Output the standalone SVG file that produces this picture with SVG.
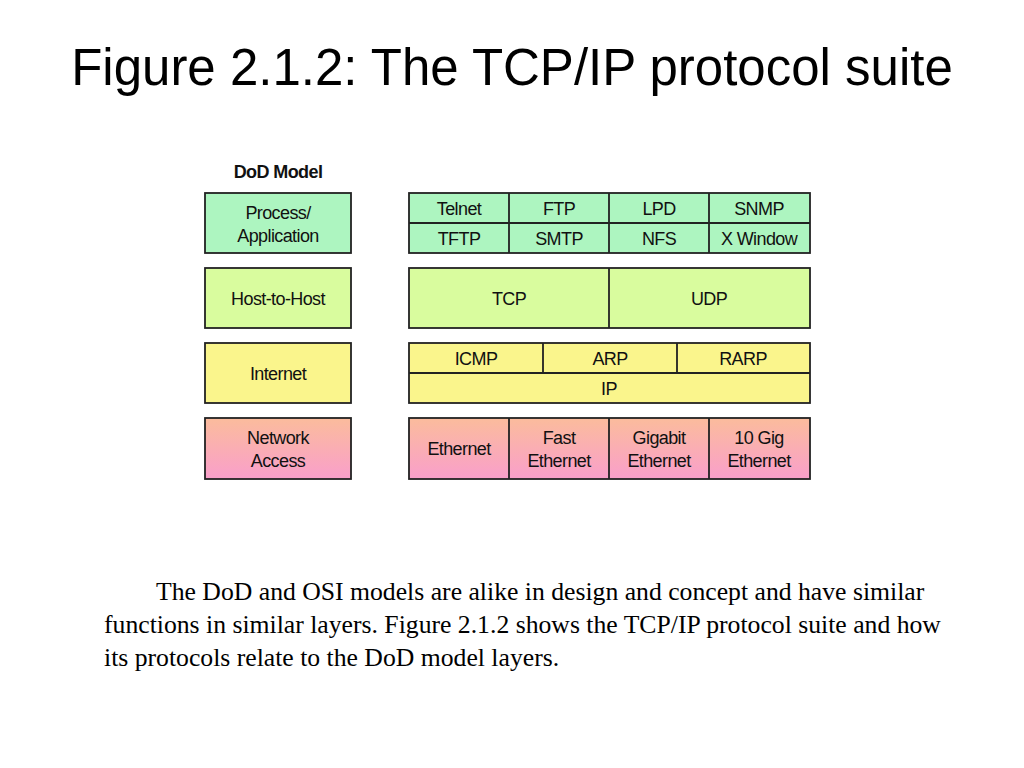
<svg xmlns="http://www.w3.org/2000/svg" width="1024" height="768" viewBox="0 0 1024 768">
<defs>
<linearGradient id="pk" x1="0" y1="0" x2="0" y2="1"><stop offset="0" stop-color="#fbbc9c"/><stop offset="1" stop-color="#f99fcb"/></linearGradient>
<style>
.b{stroke:#222;stroke-width:1.8}
.g{fill:#adf5c0}.lg{fill:#d9fc9e}.y{fill:#faf58c}.p{fill:url(#pk)}
.t{font-family:"Liberation Sans",Arial,sans-serif;font-size:18px;text-anchor:middle;fill:#111;letter-spacing:-0.6px}
.l{stroke:#222;stroke-width:1.8;fill:none}
</style>
</defs>
<rect width="1024" height="768" fill="#fff"/>
<text x="512" y="85" font-family="Liberation Sans,Arial,sans-serif" font-size="51" text-anchor="middle" fill="#000">Figure 2.1.2: The TCP/IP protocol suite</text>
<text x="278" y="178" class="t" font-weight="bold">DoD Model</text>
<g id="dod-app"><rect class="b g" x="205" y="193" width="146" height="60"/><text class="t" x="278" y="219">Process/</text><text class="t" x="278" y="242">Application</text></g>
<g id="dod-host"><rect class="b lg" x="205" y="268" width="146" height="60"/><text class="t" x="278" y="305">Host-to-Host</text></g>
<g id="dod-internet"><rect class="b y" x="205" y="343" width="146" height="60"/><text class="t" x="278" y="380">Internet</text></g>
<g id="dod-net"><rect class="b p" x="205" y="418" width="146" height="61"/><text class="t" x="278" y="444">Network</text><text class="t" x="278" y="467">Access</text></g>
<g id="app"><rect class="b g" x="409" y="193" width="401" height="60"/>
<path class="l" d="M409 223H810M509 193V253M609 193V253M709 193V253"/>
<text class="t" x="459" y="215">Telnet</text><text class="t" x="559" y="215">FTP</text><text class="t" x="659" y="215">LPD</text><text class="t" x="759" y="215">SNMP</text>
<text class="t" x="459" y="245">TFTP</text><text class="t" x="559" y="245">SMTP</text><text class="t" x="659" y="245">NFS</text><text class="t" x="759" y="245">X Window</text></g>
<g id="transport"><rect class="b lg" x="409" y="268" width="401" height="60"/><path class="l" d="M609 268V328"/>
<text class="t" x="509" y="305">TCP</text><text class="t" x="709" y="305">UDP</text></g>
<g id="internet"><rect class="b y" x="409" y="343" width="401" height="60"/><path class="l" d="M409 373H810M543 343V373M677 343V373"/>
<text class="t" x="476" y="365">ICMP</text><text class="t" x="610" y="365">ARP</text><text class="t" x="743" y="365">RARP</text><text class="t" x="609" y="395">IP</text></g>
<g id="netaccess"><rect class="b p" x="409" y="418" width="401" height="61"/><path class="l" d="M509 418V479M609 418V479M709 418V479"/>
<text class="t" x="459" y="455">Ethernet</text><text class="t" x="559" y="444">Fast</text><text class="t" x="559" y="467">Ethernet</text>
<text class="t" x="659" y="444">Gigabit</text><text class="t" x="659" y="467">Ethernet</text><text class="t" x="759" y="444">10 Gig</text><text class="t" x="759" y="467">Ethernet</text></g>
<g id="connectors"/>
<g font-family="Liberation Serif,Times New Roman,serif" font-size="25.7" fill="#000">
<text x="156" y="600">The DoD and OSI models are alike in design and concept and have similar</text>
<text x="104" y="633">functions in similar layers. Figure 2.1.2 shows the TCP/IP protocol suite and how</text>
<text x="104" y="666">its protocols relate to the DoD model layers.</text>
</g>
</svg>
